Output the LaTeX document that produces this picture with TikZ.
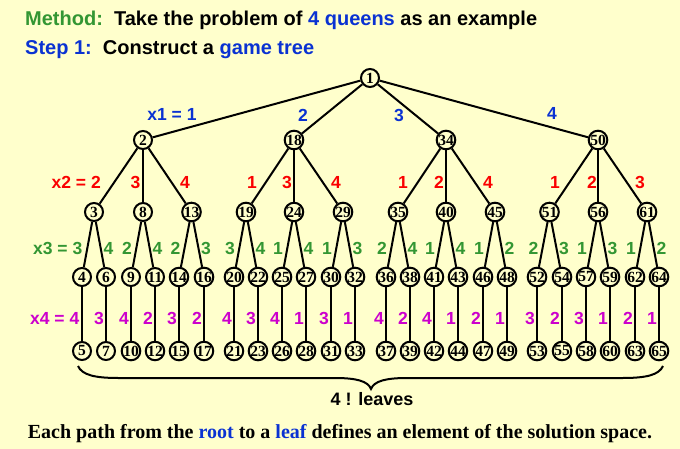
\documentclass[tikz,border=0pt]{standalone}
\usepackage{fontspec}
\setmainfont{Liberation Sans}
\newfontfamily\numfont{Liberation Serif}
\definecolor{bgyellow}{RGB}{255,255,204}
\definecolor{qgreen}{RGB}{51,150,51}
\definecolor{qblue}{RGB}{10,50,210}
\definecolor{qred}{RGB}{250,0,0}
\definecolor{qmag}{RGB}{204,0,204}
\begin{document}
\begin{tikzpicture}[x=1pt,y=-1pt,
  tn/.style={circle,draw,line width=2pt,fill=bgyellow,minimum size=18pt,inner sep=0pt,
    font=\numfont\bfseries\fontsize{15.5}{15.5}\selectfont},
  te/.style={line width=2pt},
  lab/.style={inner sep=0pt,font=\bfseries\fontsize{17.5}{17.5}\selectfont},
  bluelab/.style={lab,text=qblue},
  redlab/.style={lab,text=qred},
  greenlab/.style={lab,text=qgreen},
  maglab/.style={lab,text=qmag}]
\fill[bgyellow] (0,0) rectangle (680,449);
\useasboundingbox (0,0) rectangle (680,449);

% titles
\node[anchor=base west,inner sep=0pt,font=\bfseries\fontsize{20}{20}\selectfont] (t1) at (25,26)
  {\textcolor{qgreen}{Method:}\ \ Take the problem of \textcolor{qblue}{4 queens} as an example};
\node[anchor=base west,inner sep=0pt,font=\bfseries\fontsize{20}{20}\selectfont] (t2) at (25,55)
  {\textcolor{qblue}{Step 1:}\ \ Construct a \textcolor{qblue}{game tree}};

% root and first level
\node[tn] (n1) at (370,78) {1};
\node[tn] (n2) at (143,140) {2};
\node[tn] (n18) at (294,140) {18};
\node[tn] (n34) at (446,140) {34};
\node[tn] (n50) at (598,140) {50};
\foreach \c in {2,18,34,50} \draw[te] (n1) -- (n\c);

% first-level labels
\node[bluelab] (b1) at (172,114) {x1 = 1};
\node[bluelab] (b2) at (303,115) {2};
\node[bluelab] (b3) at (399,115) {3};
\node[bluelab] (b4) at (552,113) {4};

% lower levels
\foreach \x/\xa/\xb/\p/\n/\a/\b/\ga/\gb/\ma/\mb in {
  94/82/106/2/3/4/6/3/4/4/3,
  143/131/155/2/8/9/11/2/4/4/2,
  191.5/179/204/2/13/14/16/2/3/3/2,
  246/234/258/18/19/20/22/3/4/4/3,
  294/282/306/18/24/25/27/1/4/4/1,
  343/331/355/18/29/30/32/1/3/3/1,
  398/386/410/34/35/36/38/2/4/4/2,
  446/434/458/34/40/41/43/1/4/4/1,
  495/483/507/34/45/46/48/1/2/2/1,
  549.5/537/562/50/51/52/54/2/3/3/2,
  598/586/610/50/56/57/59/1/3/3/1,
  647/635/659/50/61/62/64/1/2/2/1}{
  \pgfmathtruncatemacro\ap{\a+1}
  \pgfmathtruncatemacro\bp{\b+1}
  \node[tn] (n\n) at (\x,212) {\n};
  \node[tn] (n\a) at (\xa,277) {\a};
  \node[tn] (n\b) at (\xb,277) {\b};
  \node[tn] (n\ap) at (\xa,351) {\ap};
  \node[tn] (n\bp) at (\xb,351) {\bp};
  \draw[te] (n\p) -- (n\n);
  \draw[te] (n\n) -- (n\a);
  \draw[te] (n\n) -- (n\b);
  \draw[te] (n\a) -- (n\ap);
  \draw[te] (n\b) -- (n\bp);
  \ifnum\n=3
    \node[greenlab,anchor=east] (g\n a) at (\x-11.5,248) {x3 = 3};
    \node[maglab,anchor=east] (m\n a) at (\xa-2.5,318) {x4 = 4};
  \else
    \node[greenlab] (g\n a) at (\x-16,248) {\ga};
    \node[maglab] (m\n a) at (\xa-7,318) {\ma};
  \fi
  \node[greenlab] (g\n b) at (\x+14.5,248) {\gb};
  \node[maglab] (m\n b) at (\xb-7,318) {\mb};
}

% second-level labels
\node[redlab,anchor=east] (r1) at (101,182) {x2 = 2};
\node[redlab] (r2) at (135.5,182) {3};
\node[redlab] (r3) at (185,182) {4};
\node[redlab] (r4) at (252,182) {1};
\node[redlab] (r5) at (287,182) {3};
\node[redlab] (r6) at (336,182) {4};
\node[redlab] (r7) at (403,182) {1};
\node[redlab] (r8) at (439,182) {2};
\node[redlab] (r9) at (488,182) {4};
\node[redlab] (r10) at (555,182) {1};
\node[redlab] (r11) at (592,182) {2};
\node[redlab] (r12) at (640,182) {3};

% brace
\draw[line width=2pt] (78,366) .. controls (82,375) and (95,378) .. (118,378)
  -- (335,378) .. controls (356,378) and (368,381) .. (371,389)
  .. controls (374,381) and (386,378) .. (407,378)
  -- (623,378) .. controls (646,378) and (659,375) .. (663,366);
\node[lab,font=\bfseries\fontsize{18}{18}\selectfont] (lv) at (372,399) {4 ! leaves};

% bottom text
\node[anchor=base,inner sep=0pt,font=\numfont\bfseries\fontsize{20}{20}\selectfont] (bt) at (340,438)
  {Each path from the \textcolor{qblue}{root} to a \textcolor{qblue}{leaf} defines an element of the solution space.};
\end{tikzpicture}
\end{document}
